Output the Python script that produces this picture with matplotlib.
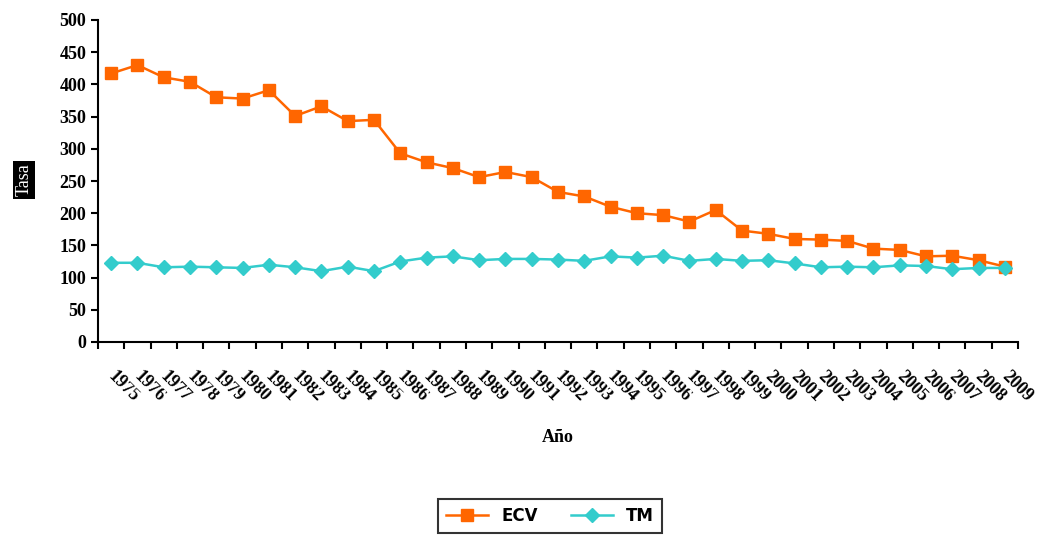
import matplotlib.pyplot as plt

years = list(range(1975, 2010))
ecv = [417, 430, 411, 404, 380, 378, 391, 351, 366, 343, 345, 293, 279, 270, 256, 264, 256, 233,
       226, 210, 200, 197, 187, 205, 173, 168, 160, 159, 157, 145, 143, 133, 134, 127, 117]
tm = [123, 123, 116, 117, 116, 115, 120, 116, 110, 117, 110, 125, 131, 133, 127, 129, 129, 128,
      126, 133, 131, 134, 126, 129, 126, 127, 122, 116, 117, 116, 119, 118, 113, 115, 115]

plt.rcParams['font.family'] = ['Liberation Serif', 'DejaVu Serif']
fig = plt.figure(figsize=(10.54, 5.40), dpi=100)
ax = fig.add_axes([98/1054, 1 - 342/540, 920/1054, 322/540])

n = len(years)
x = list(range(n))
ax.plot(x, ecv, color='#ff6600', marker='s', markersize=9, linewidth=1.8, label='ECV')
ax.plot(x, tm, color='#33cccc', marker='D', markersize=7, linewidth=1.8, label='TM')

ax.set_xlim(-0.5, n - 0.5)
ax.set_ylim(0, 500)
ax.set_yticks(range(0, 501, 50))
ax.set_yticklabels([str(v) for v in range(0, 501, 50)], fontsize=13, fontweight='bold')
ax.set_xticks([i - 0.5 for i in range(n + 1)])
ax.set_xticklabels([])
ax.tick_params(axis='both', direction='out', length=5, width=1.5)
for s in ['top', 'right']:
    ax.spines[s].set_visible(False)
for s in ['left', 'bottom']:
    ax.spines[s].set_linewidth(1.5)

for i, yr in enumerate(years):
    ax.text(i + 0.2, -40, str(yr), rotation=-45, fontsize=13, fontweight='bold',
            ha='left', va='top', rotation_mode='anchor', zorder=10 + i,
            bbox=dict(facecolor='white', edgecolor='none', pad=1),
            transform=ax.transData, clip_on=False)

fig.text(558/1054, 1 - 438/540, 'Año', ha='center', va='center', fontsize=13, fontweight='bold')
fig.text(24/1054, 1 - 180/540, 'Tasa', ha='center', va='center', rotation=90, fontsize=13,
         color='white', bbox=dict(facecolor='black', edgecolor='none', pad=2))

leg = fig.legend(loc='center', bbox_to_anchor=(550/1054, 1 - 516/540), ncol=2, frameon=True,
                 fancybox=False, edgecolor='black', borderpad=0.5, handlelength=2.5,
                 prop={'family': 'DejaVu Sans', 'weight': 'bold', 'size': 12})
leg.get_frame().set_linewidth(1.5)

fig.savefig('out.png', dpi=100)
